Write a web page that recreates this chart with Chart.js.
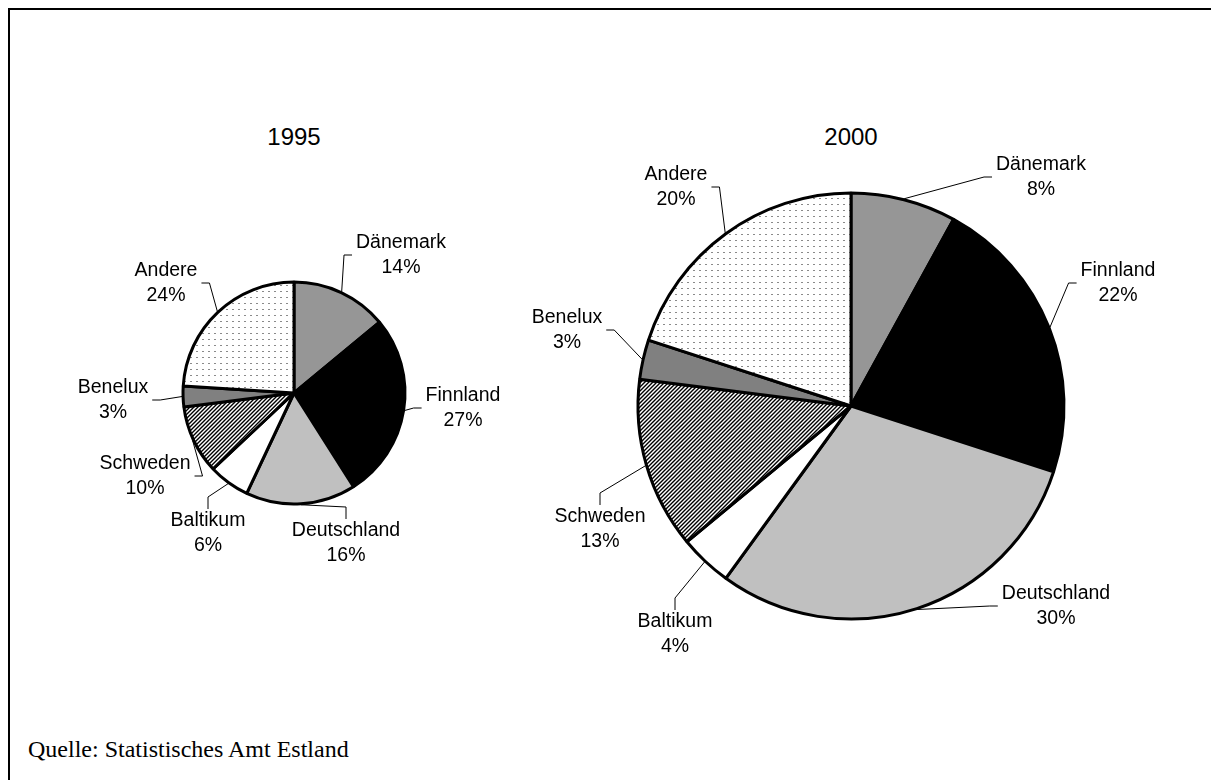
<!DOCTYPE html>
<html>
<head>
<meta charset="utf-8">
<script src="https://cdn.jsdelivr.net/npm/chart.js@4.4.1/dist/chart.umd.min.js"></script>
<style>
  body { margin: 0; background: #fff; width: 1211px; height: 780px; overflow: hidden; position: relative; }
  .frame { position: absolute; left: 8px; top: 8px; width: 1300px; height: 900px; border: 2px solid #000; }
  .title { position: absolute; font: 24px "Liberation Sans", Arial, sans-serif; color: #000; transform: translate(-50%, -50%); }
  .source { position: absolute; left: 28px; top: 736px; font: 24px "Liberation Serif", "Times New Roman", serif; color: #000; }
  canvas { position: absolute; }
</style>
</head>
<body>
<div class="frame"></div>
<div class="title" style="left:294px; top:137px;">1995</div>
<div class="title" style="left:851px; top:137px;">2000</div>
<canvas id="pie1995" width="500" height="400" style="left:44px; top:193px;"></canvas>
<canvas id="pie2000" width="680" height="540" style="left:511px; top:136px;"></canvas>
<div class="source">Quelle: Statistisches Amt Estland</div>
<script>
// Anteile in Prozent, im Uhrzeigersinn ab 12 Uhr
const countries = ['Dänemark', 'Finnland', 'Deutschland', 'Baltikum', 'Schweden', 'Benelux', 'Andere'];
const shares1995 = [14, 27, 16, 6, 10, 3, 24];
const shares2000 = [8, 22, 30, 4, 13, 3, 20];

// Lage der Beschriftungen relativ zum Kreismittelpunkt
const labelPos1995 = [[107, -138], [169, 15], [52, 150], [-86, 140], [-149, 83], [-181, 7], [-128, -110]];
const labelPos2000 = [[190, -229], [267, -123], [205, 200], [-176, 228], [-251, 123], [-284, -76], [-175, -219]];

function hatchPattern() {
    const c = document.createElement('canvas');
    c.width = 4; c.height = 4;
    const g = c.getContext('2d');
    g.fillStyle = '#fff';
    g.fillRect(0, 0, 4, 4);
    g.strokeStyle = '#000';
    g.lineWidth = 1.4;
    g.beginPath();
    g.moveTo(-1, 5); g.lineTo(5, -1);
    g.moveTo(-1, 1); g.lineTo(1, -1);
    g.moveTo(3, 5); g.lineTo(5, 3);
    g.stroke();
    return g.createPattern(c, 'repeat');
}

function dotPattern() {
    const c = document.createElement('canvas');
    c.width = 6; c.height = 6;
    const g = c.getContext('2d');
    g.fillStyle = '#fff';
    g.fillRect(0, 0, 6, 6);
    g.fillStyle = '#8a8a8a';
    g.fillRect(2, 2, 2, 1);
    return g.createPattern(c, 'repeat');
}

function fills() {
    return ['#969696', '#000000', '#c0c0c0', '#ffffff', hatchPattern(), '#808080', dotPattern()];
}

// Beschriftung mit Führungslinie zum Segmentrand
const leaderLabels = {
    id: 'leaderLabels',
    afterDatasetsDraw(chart, args, opts) {
        const ctx = chart.ctx;
        const meta = chart.getDatasetMeta(0);
        const values = chart.data.datasets[0].data;
        const lineH = 25;
        ctx.save();
        ctx.font = '19.5px "Liberation Sans", Arial, sans-serif';
        ctx.fillStyle = '#000';
        ctx.strokeStyle = '#000';
        ctx.lineWidth = 1;
        ctx.textAlign = 'center';
        ctx.textBaseline = 'middle';
        meta.data.forEach((arc, i) => {
            const p = arc.getProps(['x', 'y', 'startAngle', 'endAngle', 'outerRadius'], true);
            const mid = (p.startAngle + p.endAngle) / 2;
            const r = p.outerRadius + 1;
            const ex = p.x + Math.cos(mid) * r;
            const ey = p.y + Math.sin(mid) * r;
            const cx = p.x + opts.pos[i][0];
            const cy = p.y + opts.pos[i][1];
            const lines = [chart.data.labels[i], values[i] + '%'];
            const w = Math.max(...lines.map(t => ctx.measureText(t).width));
            const left = cx - w / 2, right = cx + w / 2;
            const top = cy - lineH + 4, bottom = cy + lineH - 4;

            ctx.beginPath();
            ctx.moveTo(ex, ey);
            if (ex < left - 2 || ex > right + 2) {
                const side = ex < left ? left - 4 : right + 4;
                const dir = ex < left ? -1 : 1;
                ctx.lineTo(side + dir * 8, cy);
                ctx.lineTo(side, cy);
            } else {
                const edge = ey < cy ? top - 3 : bottom + 3;
                const dir = ey < cy ? -1 : 1;
                ctx.lineTo(cx, edge + dir * 12);
                ctx.lineTo(cx, edge);
            }
            ctx.stroke();

            ctx.fillText(lines[0], cx, cy - lineH / 2);
            ctx.fillText(lines[1], cx, cy + lineH / 2);
        });
        ctx.restore();
    }
};

function drawPie(id, shares, radius, pos) {
    return new Chart(document.getElementById(id), {
        type: 'pie',
        data: {
            labels: countries,
            datasets: [{
                data: shares,
                backgroundColor: fills(),
                borderColor: '#000',
                borderWidth: 3
            }]
        },
        options: {
            responsive: false,
            animation: false,
            radius: radius,
            layout: { padding: 0 },
            plugins: {
                legend: { display: false },
                tooltip: { enabled: false },
                leaderLabels: { pos: pos }
            }
        },
        plugins: [leaderLabels]
    });
}

drawPie('pie1995', shares1995, 111, labelPos1995);
drawPie('pie2000', shares2000, 213, labelPos2000);
</script>
</body>
</html>
